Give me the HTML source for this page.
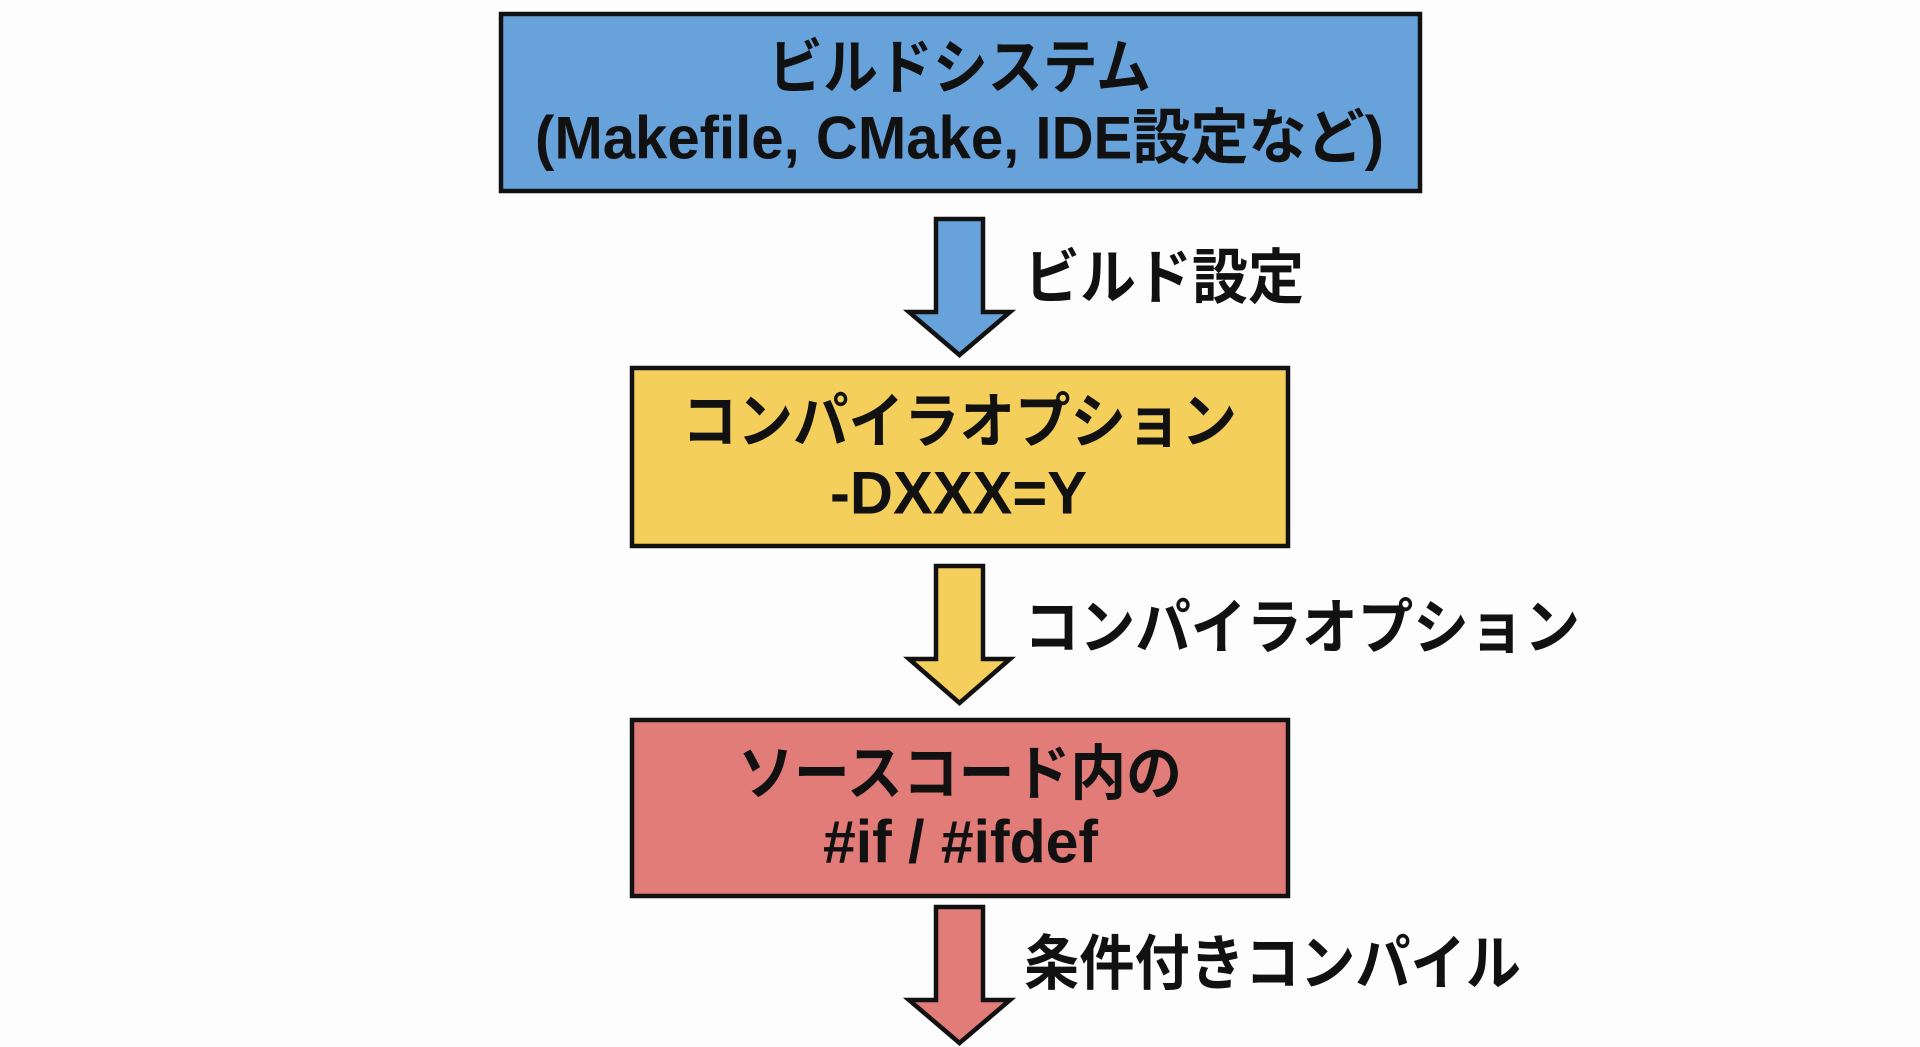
<!DOCTYPE html>
<html><head><meta charset="utf-8"><style>html,body{margin:0;padding:0;background:#fdfdfd;}svg{display:block}</style></head>
<body>
<svg width="1920" height="1047" viewBox="0 0 1920 1047" xmlns="http://www.w3.org/2000/svg">
<rect width="1920" height="1047" fill="#fdfdfd"/>
<g stroke="#111" stroke-width="4.5" stroke-linejoin="miter">
<rect x="501" y="14" width="919" height="177" fill="#68a2da"/>
<rect x="632" y="368" width="656" height="178" fill="#f5cf5c"/>
<rect x="632" y="720" width="656" height="176" fill="#e17c78"/>
<polygon points="936,219 983,219 983,312 1010,312 959.5,355 909,312 936,312" fill="#68a2da"/>
<polygon points="936,566 983,566 983,659 1010,659 959.5,703 909,659 936,659" fill="#f5cf5c"/>
<polygon points="936,907 983,907 983,1000 1010,1000 959.5,1043 909,1000 936,1000" fill="#e17c78"/>
</g>
<g font-family="'Liberation Sans','Noto Sans CJK JP',sans-serif" font-weight="bold" font-size="60" fill="#111">
<text x="768" y="68" textLength="383" lengthAdjust="spacingAndGlyphs" dominant-baseline="central">ビルドシステム</text>
<text x="535" y="138" textLength="849" lengthAdjust="spacingAndGlyphs" dominant-baseline="central">(Makefile, CMake, IDE設定など)</text>
<text x="682" y="422" textLength="555" lengthAdjust="spacingAndGlyphs" dominant-baseline="central">コンパイラオプション</text>
<text x="830" y="493" textLength="257" lengthAdjust="spacingAndGlyphs" dominant-baseline="central">-DXXX=Y</text>
<text x="738" y="774" textLength="444" lengthAdjust="spacingAndGlyphs" dominant-baseline="central">ソースコード内の</text>
<text x="823" y="842" textLength="275" lengthAdjust="spacingAndGlyphs" dominant-baseline="central">#if / #ifdef</text>
<text x="1024" y="278" textLength="280" lengthAdjust="spacingAndGlyphs" dominant-baseline="central">ビルド設定</text>
<text x="1024" y="628" textLength="556" lengthAdjust="spacingAndGlyphs" dominant-baseline="central">コンパイラオプション</text>
<text x="1024" y="964" textLength="497" lengthAdjust="spacingAndGlyphs" dominant-baseline="central">条件付きコンパイル</text>
</g>
</svg>
</body></html>
